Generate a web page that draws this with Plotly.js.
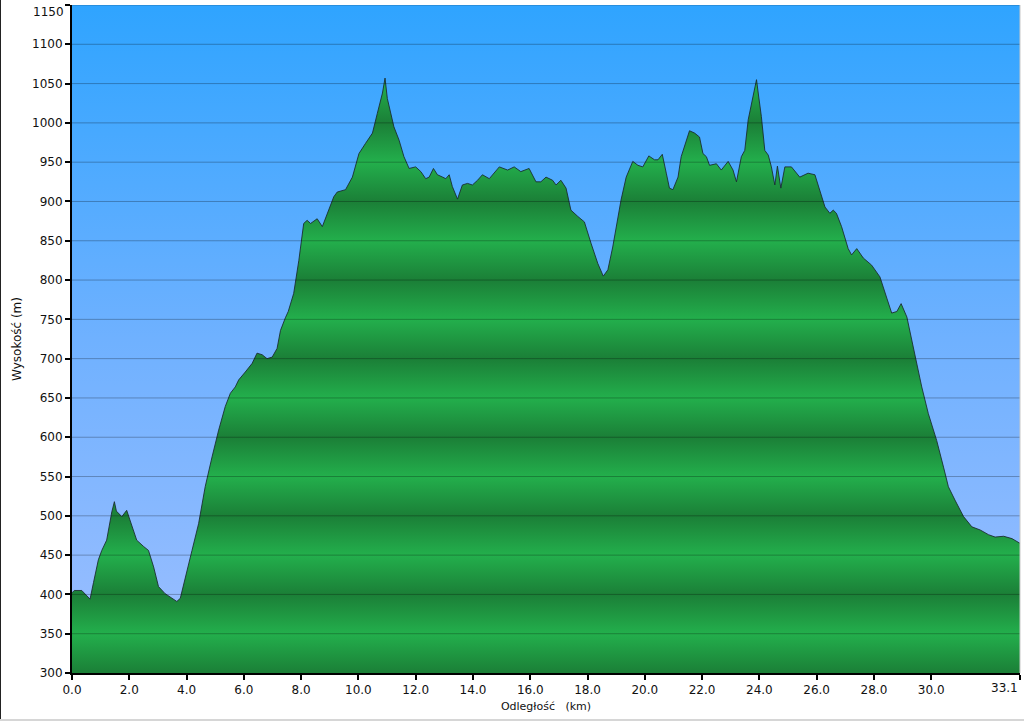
<!DOCTYPE html>
<html>
<head>
<meta charset="utf-8">
<script src="https://cdn.plot.ly/plotly-3.0.1.min.js"></script>
<style>
  html, body { margin: 0; padding: 0; background: #fff; }
  #wrap { position: relative; width: 1024px; height: 721px; overflow: hidden; }
  #chart { width: 1024px; height: 721px; }
  #bl { position: absolute; left: 0; top: 0; width: 1px; height: 721px; background: #222; }
  #bb { position: absolute; left: 0; bottom: 0; width: 1024px; height: 2px; background: #d6d6d6; }
</style>
</head>
<body>
<div id="wrap"><div id="chart"></div><div id="bl"></div><div id="bb"></div></div>
<script>
// Distance along the route (km)
const distanceKm = [
  0.0, 0.08, 0.34, 0.5, 0.63, 0.75, 0.92, 1.04, 1.21, 1.39, 1.48, 1.55, 1.62, 1.74, 1.91,
  2.09, 2.26, 2.5, 2.67, 2.85, 3.02, 3.25, 3.49, 3.66, 3.78, 3.95, 4.19, 4.42, 4.65, 4.89,
  5.12, 5.35, 5.53, 5.7, 5.82, 6.05, 6.29, 6.46, 6.64, 6.81, 6.99, 7.16, 7.28, 7.45, 7.55,
  7.74, 7.92, 8.09, 8.21, 8.33, 8.56, 8.74, 8.91, 9.14, 9.26, 9.55, 9.79, 10.02, 10.25, 10.49,
  10.66, 10.84, 10.93, 11.01, 11.24, 11.42, 11.59, 11.77, 12.0, 12.18, 12.35, 12.47, 12.62, 12.76, 12.94,
  13.05, 13.17, 13.28, 13.46, 13.63, 13.81, 13.98, 14.16, 14.33, 14.57, 14.74, 14.92, 15.21, 15.44, 15.67,
  15.96, 16.2, 16.37, 16.55, 16.78, 16.9, 17.07, 17.25, 17.42, 17.66, 17.89, 18.12, 18.36, 18.55, 18.71,
  18.88, 19.06, 19.17, 19.35, 19.58, 19.76, 19.93, 20.14, 20.34, 20.46, 20.61, 20.75, 20.86, 20.98, 21.16,
  21.27, 21.45, 21.56, 21.74, 21.91, 22.03, 22.15, 22.26, 22.5, 22.67, 22.91, 23.08, 23.2, 23.37, 23.49,
  23.61, 23.78, 23.9, 23.96, 24.07, 24.19, 24.31, 24.42, 24.54, 24.63, 24.75, 24.89, 25.12, 25.41, 25.7,
  25.94, 26.11, 26.29, 26.46, 26.58, 26.69, 26.87, 27.1, 27.22, 27.4, 27.63, 27.92, 28.21, 28.45, 28.62,
  28.8, 28.95, 29.15, 29.44, 29.67, 29.9, 30.19, 30.43, 30.6, 30.83, 31.13, 31.42, 31.71, 32.0, 32.23,
  32.53, 32.82, 33.1
];
// Elevation (m)
const elevationM = [
  402, 405, 405, 399, 394, 415, 444, 456, 469, 505, 518, 506, 503, 499, 507,
  486, 469, 461, 456, 435, 410, 401, 395, 391, 395, 422, 456, 490, 537, 575,
  609, 639, 656, 664, 673, 683, 694, 707, 705, 700, 702, 713, 736, 752, 760,
  783, 825, 872, 876, 872, 878, 868, 885, 906, 912, 915, 931, 961, 974, 987,
  1012, 1038, 1057, 1031, 995, 978, 957, 942, 944, 938, 929, 931, 942, 934, 931,
  929, 934, 919, 903, 921, 923, 921, 927, 934, 929, 936, 944, 940, 944, 938,
  942, 925, 925, 931, 927, 921, 927, 917, 889, 881, 874, 847, 821, 805, 813,
  842, 881, 902, 931, 951, 946, 944, 958, 953, 953, 960, 936, 917, 915, 931,
  957, 978, 990, 987, 982, 961, 957, 946, 948, 940, 951, 940, 925, 957, 965,
  1004, 1033, 1055, 1038, 1008, 965, 959, 944, 921, 945, 917, 944, 944, 931, 936,
  934, 915, 893, 885, 889, 885, 868, 840, 832, 840, 828, 819, 804, 777, 758,
  760, 770, 753, 702, 664, 630, 596, 562, 537, 520, 499, 486, 482, 476, 473,
  474, 471, 465
];
// Axis ticks
const xTickVals = [0, 2, 4, 6, 8, 10, 12, 14, 16, 18, 20, 22, 24, 26, 28, 30, 33.1];
const xTickText = ['0.0', '2.0', '4.0', '6.0', '8.0', '10.0', '12.0', '14.0', '16.0', '18.0',
                   '20.0', '22.0', '24.0', '26.0', '28.0', '30.0', '33.1'];
const yTickVals = [300, 350, 400, 450, 500, 550, 600, 650, 700, 750, 800, 850, 900, 950,
                   1000, 1050, 1100, 1150];
const yTickText = ['300', '350', '400', '450', '500', '550', '600', '650', '700', '750',
                   '800', '850', '900', '950', '1000', '1050', '1100', '1150'];
const xRange = [0, 33.1];
const yRange = [300, 1150];

// Edge labels are drawn as annotations nudged inside the picture (as in the original)
const lastX = xTickVals.length - 1;
const lastY = yTickVals.length - 1;
const xTickLabels = xTickText.map((t, i) => i === lastX ? '' : t);
const yTickLabels = yTickText.map((t, i) => i === lastY ? '' : t);

// Banded green fill: darker at each hundred, lighter at each odd fifty
const span = yRange[1] - yRange[0];
const greenScale = yTickVals.map(v => [
  (v - yRange[0]) / span,
  (v % 100 === 0) ? 'rgb(27,127,55)' : 'rgb(35,175,76)'
]);

const background = {
  x: xRange, y: [yRange[1], yRange[1]],
  type: 'scatter', mode: 'lines', fill: 'tozeroy',
  line: { width: 0 }, hoverinfo: 'skip', showlegend: false,
  fillgradient: {
    type: 'vertical', start: yRange[0], stop: yRange[1],
    colorscale: [[0, '#9ebfff'], [0.5, '#6fb1ff'], [1, '#2fa4ff']]
  }
};

const profile = {
  x: distanceKm, y: elevationM,
  type: 'scatter', mode: 'lines', fill: 'tozeroy',
  line: { color: 'rgba(25,40,45,0.85)', width: 1 },
  fillgradient: {
    type: 'vertical', start: yRange[0], stop: yRange[1],
    colorscale: greenScale
  },
  hoverinfo: 'x+y', showlegend: false
};

const shapes = yTickVals.filter(v => v > yRange[0]).map(v => ({
  type: 'line', xref: 'paper', x0: 0, x1: 1, yref: 'y', y0: v, y1: v,
  line: { color: 'rgba(0,0,0,0.27)', width: 1 }, layer: 'above'
}));
shapes.push({
  type: 'line', xref: 'paper', x0: 1, x1: 1, yref: 'paper', y0: 0, y1: 1,
  line: { color: '#c8c8c8', width: 1 }, layer: 'above'
});

const fontFamily = '"DejaVu Sans", Verdana, sans-serif';
const tickFont = { family: fontFamily, size: 12, color: '#111' };

const annotations = [
  { text: xTickText[lastX], xref: 'x', x: xTickVals[lastX], yref: 'paper', y: 0,
    xanchor: 'right', yanchor: 'top', xshift: 0, yshift: -6, showarrow: false, font: tickFont },
  { text: yTickText[lastY], xref: 'paper', x: 0, yref: 'y', y: yTickVals[lastY],
    xanchor: 'right', yanchor: 'top', xshift: -6, yshift: 2, showarrow: false, font: tickFont }
];

const layout = {
  width: 1024, height: 721,
  margin: { l: 72, r: 4, t: 5, b: 48 },
  paper_bgcolor: '#ffffff', plot_bgcolor: '#9ebfff',
  font: { family: fontFamily, size: 12, color: '#111' },
  showlegend: false,
  xaxis: {
    range: xRange, tickvals: xTickVals, ticktext: xTickLabels,
    showgrid: false, zeroline: false,
    showline: true, linecolor: '#000', linewidth: 2,
    ticks: 'outside', ticklen: 5, tickwidth: 2, tickcolor: '#000',
    tickfont: tickFont,
    title: { text: 'Odległość\u00a0\u00a0\u00a0(km)', font: { size: 11, color: '#111' }, standoff: 6 }
  },
  yaxis: {
    range: yRange, tickvals: yTickVals, ticktext: yTickLabels,
    showgrid: false, zeroline: false,
    showline: true, linecolor: '#000', linewidth: 2,
    ticks: 'outside', ticklen: 5, tickwidth: 2, tickcolor: '#000',
    tickfont: tickFont,
    title: { text: 'Wysokość (m)', font: { size: 12, color: '#111' }, standoff: 8 }
  },
  shapes: shapes,
  annotations: annotations
};

Plotly.newPlot('chart', [background, profile], layout, { displayModeBar: false, staticPlot: true });
</script>
</body>
</html>
